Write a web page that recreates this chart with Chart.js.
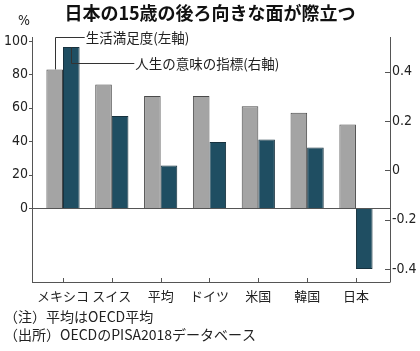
<!DOCTYPE html>
<html><head><meta charset="utf-8">
<script src="https://cdn.jsdelivr.net/npm/chart.js@4"></script>
<style>html,body{margin:0;padding:0;background:#fff;}#wrap{position:relative;width:420px;height:351px;}</style>
</head><body><div id="wrap"><canvas id="c"></canvas></div>
<script>
const categories = ['メキシコ','スイス','平均','ドイツ','米国','韓国','日本'];
const lifeSatisfaction = [83, 74, 67, 67, 61, 57, 50];
const meaningIndex = [0.50, 0.22, 0.02, 0.115, 0.125, 0.093, -0.40];
const leftTicks = [0, 20, 40, 60, 80, 100];
const rightTicks = [-0.4, -0.2, 0, 0.2, 0.4];
const seriesNames = ['生活満足度(左軸)', '人生の意味の指標(右軸)'];
const titleText = '日本の15歳の後ろ向きな面が際立つ';
const unitText = '%';
const notes = ['（注）平均はOECD平均', '（出所）OECDのPISA2018データベース'];

const L = {min: -44.31, max: 102.4};
const R = {min: -0.4528, max: 0.5408};
const darkBase = R.min + (0 - L.min) / (L.max - L.min) * (R.max - R.min);

const numFont = {family: '"Liberation Sans Narrow","DejaVu Sans Condensed",sans-serif', size: 14};
const jpFamily = '"Noto Sans CJK JP",sans-serif';
const ink = '#222';
const axisColor = '#555';

const decor = {
  id: 'decor',
  afterDatasetsDraw(chart) {
    const {ctx, chartArea: a, scales} = chart;
    const yL = scales.yL, yR = scales.yR, x = scales.x;
    ctx.save();
    ctx.strokeStyle = axisColor;
    ctx.lineWidth = 1;
    const px = v => Math.round(v) + 0.5;
    ctx.beginPath();
    ctx.moveTo(px(a.left), a.top); ctx.lineTo(px(a.left), px(a.bottom));
    ctx.moveTo(px(a.right), a.top); ctx.lineTo(px(a.right), px(a.bottom));
    ctx.moveTo(a.left, px(a.bottom)); ctx.lineTo(a.right, px(a.bottom));
    const z = px(yL.getPixelForValue(0));
    ctx.moveTo(a.left, z); ctx.lineTo(a.right, z);
    leftTicks.forEach(v => { const y = px(yL.getPixelForValue(v)); ctx.moveTo(a.left - 3, y); ctx.lineTo(a.left, y); });
    rightTicks.forEach(v => { const y = px(yR.getPixelForValue(v)); ctx.moveTo(a.right - 5, y); ctx.lineTo(a.right, y); });
    categories.forEach((c, i) => { const xx = px(x.getPixelForValue(i)); ctx.moveTo(xx, a.bottom - 4); ctx.lineTo(xx, a.bottom); });
    ctx.stroke();

    // leader lines
    const g = chart.getDatasetMeta(0).data[0];
    const d = chart.getDatasetMeta(1).data[0];
    ctx.strokeStyle = '#333';
    ctx.beginPath();
    const gx = px(g.x), gy1 = 37.5;
    ctx.moveTo(gx, g.y); ctx.lineTo(gx, gy1); ctx.lineTo(g.x + 30, gy1);
    const dx = px(d.x), dy1 = 63.5;
    ctx.moveTo(dx, d.y); ctx.lineTo(dx, dy1); ctx.lineTo(d.x + 63, dy1);
    ctx.stroke();

    ctx.fillStyle = ink;
    ctx.textBaseline = 'middle';
    ctx.textAlign = 'left';
    ctx.font = '13.5px ' + jpFamily;
    ctx.fillText(seriesNames[0], g.x + 31, 38);
    ctx.fillText(seriesNames[1], d.x + 64, 64);

    ctx.font = '14px ' + jpFamily;
    ctx.fillText(notes[0], 4, 317);
    ctx.fillText(notes[1], 4, 335);

    ctx.textAlign = 'center';
    ctx.font = '14px ' + numFont.family;
    ctx.fillText(unitText, 24, 21);

    ctx.fillStyle = '#111';
    ctx.font = 'bold 18px ' + jpFamily;
    ctx.fillText(titleText, 210, 13);
    ctx.restore();
  }
};

new Chart(document.getElementById('c'), {
  data: {
    datasets: [
      {type: 'bar', label: seriesNames[0], yAxisID: 'yL',
       data: lifeSatisfaction.map((v, i) => ({x: i, y: v})),
       backgroundColor: '#a4a4a4', borderColor: '#4a4a4a', borderWidth: 1,
       categoryPercentage: 0.68, barPercentage: 1},
      {type: 'bar', label: seriesNames[1], yAxisID: 'yR', base: darkBase,
       data: meaningIndex.map((v, i) => ({x: i, y: v})),
       backgroundColor: '#1f4e62', borderColor: '#17323f', borderWidth: 1,
       categoryPercentage: 0.68, barPercentage: 1}
    ]
  },
  options: {
    responsive: true, maintainAspectRatio: false, animation: false,
    layout: {padding: {top: 37, left: 0, right: 0, bottom: 0}},
    plugins: {legend: {display: false}, tooltip: {enabled: false}, title: {display: false}},
    scales: {
      x: {type: 'linear', min: -0.635, max: 6.697, offset: false,
          grid: {display: false, drawTicks: false}, border: {display: false},
          afterBuildTicks: s => { s.ticks = categories.map((_, i) => ({value: i})); },
          ticks: {callback: v => categories[v], autoSkip: false, maxRotation: 0, padding: 6,
                  color: ink, font: {family: jpFamily, size: 13}},
          afterFit: s => { s.height = 69; }},
      yL: {type: 'linear', position: 'left', min: L.min, max: L.max,
           grid: {display: false, drawTicks: false}, border: {display: false},
           afterBuildTicks: s => { s.ticks = leftTicks.map(v => ({value: v})); },
           ticks: {padding: 4, color: ink, font: numFont, callback: v => String(v)},
           afterFit: s => { s.width = 32; }},
      yR: {type: 'linear', position: 'right', min: R.min, max: R.max,
           grid: {display: false, drawTicks: false}, border: {display: false},
           afterBuildTicks: s => { s.ticks = rightTicks.map(v => ({value: v})); },
           ticks: {padding: 2, color: ink, font: numFont, callback: v => String(v)},
           afterFit: s => { s.width = 30; }}
    }
  },
  plugins: [decor]
});
</script></body></html>
